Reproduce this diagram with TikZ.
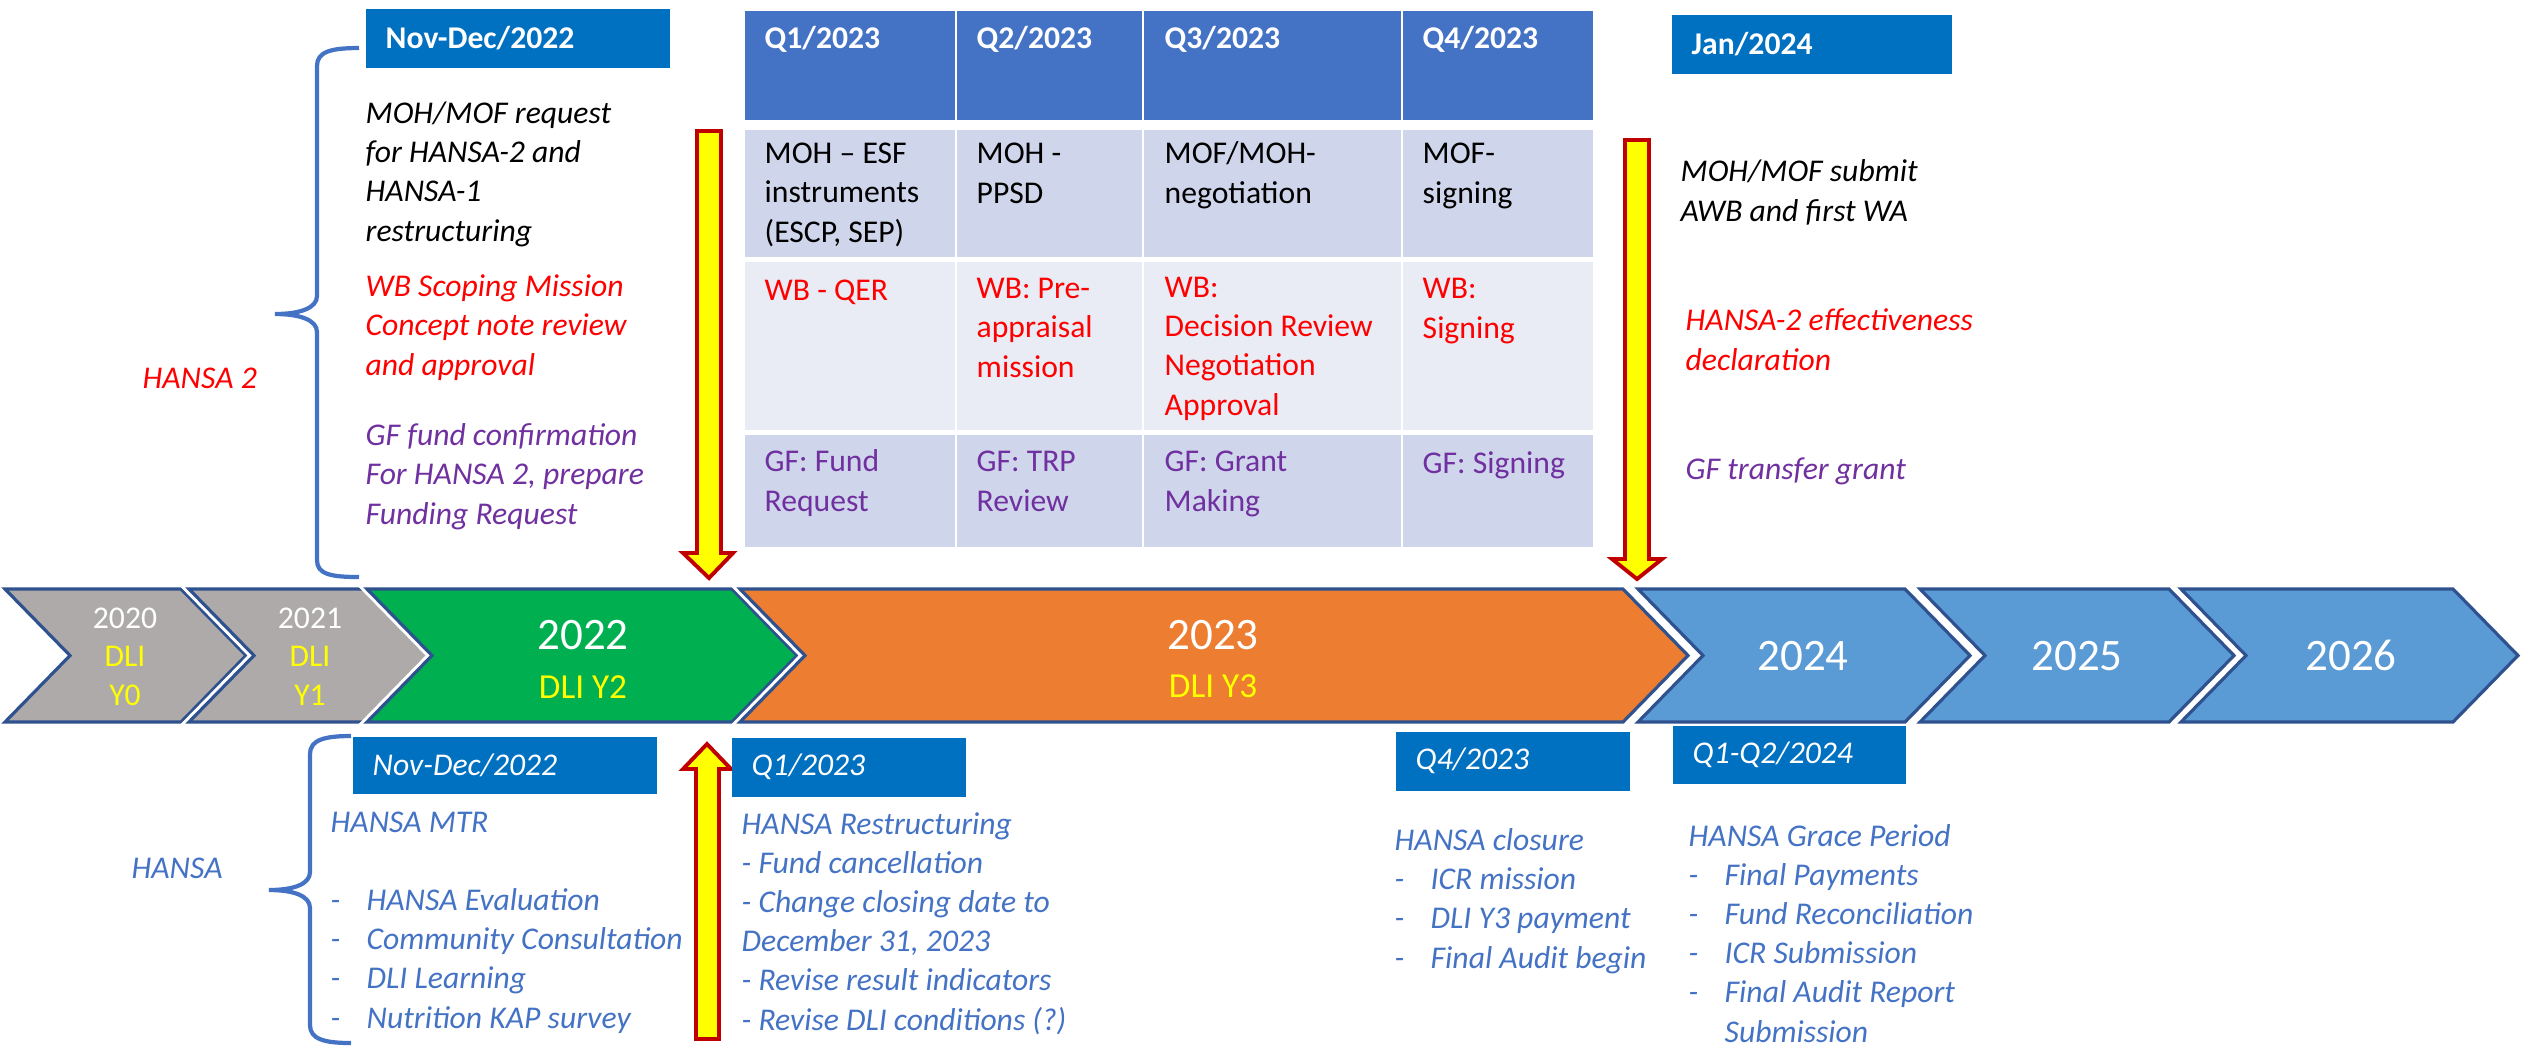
\documentclass[tikz,border=0pt]{standalone}
\usepackage{fontspec}
\setmainfont{Carlito}
\usetikzlibrary{positioning}
\definecolor{boxblue}{HTML}{0070C0}
\definecolor{headblue}{HTML}{4472C4}
\definecolor{celldark}{HTML}{CFD5EA}
\definecolor{celllight}{HTML}{E9EBF5}
\definecolor{chevgray}{HTML}{AEAAAA}
\definecolor{chevgreen}{HTML}{00B050}
\definecolor{chevorange}{HTML}{ED7D31}
\definecolor{chevblue}{HTML}{5B9BD5}
\definecolor{chevedge}{HTML}{2F528F}
\definecolor{txtred}{HTML}{FF0000}
\definecolor{txtpurple}{HTML}{7030A0}
\definecolor{txtblue}{HTML}{4472C4}
\definecolor{arrowred}{HTML}{C00000}
\definecolor{dliyellow}{HTML}{FFFF00}
\newcommand{\dashitem}[1]{\makebox[0.36cm][l]{-}#1}
% multi-line nodes: the base anchor sits on the last line
\tikzset{
  note/.style={inner sep=0pt, anchor=base west, align=left, font=\fontsize{9}{11.1}\selectfont\itshape},
  celltxt/.style={inner sep=0pt, anchor=base west, align=left, font=\fontsize{9}{11.1}\selectfont},
  cell/.style={draw=white, line width=0.8pt},
  datebox/.style={fill=boxblue, text=white, anchor=north west, inner xsep=0.2cm, inner ysep=0pt, align=left},
  chevron/.style={draw=chevedge, line width=0.9pt, line join=miter},
  chevgap/.style={draw=white, line width=2.6pt, line join=miter},
  yarrow/.style={fill=dliyellow, draw=arrowred, line width=1.1pt, line join=miter},
  bracel/.style={draw=txtblue, line width=1.2pt},
  smallyear/.style={inner sep=0pt, anchor=base, align=center, text=dliyellow, font=\fontsize{9}{10.9}\selectfont},
  bigyear/.style={inner sep=0pt, anchor=base, text=white, font=\fontsize{12.8}{15}\selectfont},
  dlitxt/.style={inner sep=0pt, anchor=base, text=dliyellow, font=\fontsize{10}{12}\selectfont}
}
\begin{document}
\begin{tikzpicture}[x=0.01cm, y=-0.01cm]
\useasboundingbox (0,0) rectangle (2521,1053);

% year chevrons
\foreach \l/\r/\c in {5/181/chevgray, 189/365/chevgray, 367/732/chevgreen, 740/1623/chevorange,
                       1638/1905/chevblue, 1920/2169/chevblue, 2181/2453/chevblue}{
  \draw[chevgap] (\l,589) -- (\r,589) -- ++(65,66.5) -- (\r,722) -- (\l,722) -- ++(65,-66.5) -- cycle;
  \draw[chevron, fill=\c] (\l,589) -- (\r,589) -- ++(65,66.5) -- (\r,722) -- (\l,722) -- ++(65,-66.5) -- cycle;
}
\node[smallyear] (y2020) at (125,705) {\textcolor{white}{2020}\\DLI\\Y0};
\node[smallyear] (y2021) at (310,705) {\textcolor{white}{2021}\\DLI\\Y1};
\node[bigyear] (y2022) at (583,649) {2022};
\node[dlitxt] (d2022) at (583,698) {DLI Y2};
\node[bigyear] (y2023) at (1213,649) {2023};
\node[dlitxt] (d2023) at (1213,697) {DLI Y3};
\node[bigyear] (y2024) at (1803,670) {2024};
\node[bigyear] (y2025) at (2077,670) {2025};
\node[bigyear] (y2026) at (2351,670) {2026};

% HANSA 2 (top)
\node[datebox, minimum height=0.59cm, text width=2.64cm, font=\fontsize{9}{11.1}\selectfont\bfseries] (topnd) at (365,8) {Nov-Dec/2022};
\node[datebox, minimum height=0.59cm, text width=2.40cm, font=\fontsize{9}{11.1}\selectfont\bfseries] (topjan) at (1671,14) {Jan/2024};
\node[note, text=txtred] (hansa2) at (142,388) {HANSA 2};
\draw[bracel] (359,48) .. controls (330,48) and (317,52) .. (317,66) -- (317,296)
  .. controls (317,308) and (300,314) .. (275,314)
  .. controls (300,314) and (317,320) .. (317,332) -- (317,560)
  .. controls (317,574) and (330,577) .. (359,577);
\node[note] (reqtxt) at (365,241) {MOH/MOF request\\for HANSA-2 and\\HANSA-1\\restructuring};
\node[note, text=txtred] (wbtxt) at (365,375) {WB Scoping Mission\\Concept note review\\and approval};
\node[note, text=txtpurple] (gftxt) at (365,524) {GF fund confirmation\\For HANSA 2, prepare\\Funding Request};

% quarter table
\foreach \xa/\xb in {744/956, 956/1143, 1143/1402, 1402/1594}{
  \draw[cell, fill=headblue] (\xa,10) rectangle (\xb,121);
  \draw[cell, fill=celldark] (\xa,129) rectangle (\xb,258);
  \draw[cell, fill=celllight] (\xa,261) rectangle (\xb,431);
  \draw[cell, fill=celldark] (\xa,434) rectangle (\xb,548);
}
\node[celltxt, text=white, font=\fontsize{9}{11.1}\selectfont\bfseries] (q1) at (764,48) {Q1/2023};
\node[celltxt, text=white, font=\fontsize{9}{11.1}\selectfont\bfseries] (q2) at (976,48) {Q2/2023};
\node[celltxt, text=white, font=\fontsize{9}{11.1}\selectfont\bfseries] (q3) at (1164,48) {Q3/2023};
\node[celltxt, text=white, font=\fontsize{9}{11.1}\selectfont\bfseries] (q4) at (1422,48) {Q4/2023};
\node[celltxt] (q1moh) at (764,242) {MOH – ESF\\instruments\\(ESCP, SEP)};
\node[celltxt] (q2moh) at (976,203) {MOH -\\PPSD};
\node[celltxt] (q3moh) at (1164,203) {MOF/MOH-\\negotiation};
\node[celltxt] (q4moh) at (1422,203) {MOF-\\signing};
\node[celltxt, text=txtred] (q1wb) at (764,300) {WB - QER};
\node[celltxt, text=txtred] (q2wb) at (976,377) {WB: Pre-\\appraisal\\mission};
\node[celltxt, text=txtred] (q3wb) at (1164,415) {WB:\\Decision Review\\Negotiation\\Approval};
\node[celltxt, text=txtred] (q4wb) at (1422,338) {WB:\\Signing};
\node[celltxt, text=txtpurple] (q1gf) at (764,511) {GF: Fund\\Request};
\node[celltxt, text=txtpurple] (q2gf) at (976,511) {GF: TRP\\Review};
\node[celltxt, text=txtpurple] (q3gf) at (1164,511) {GF: Grant\\Making};
\node[celltxt, text=txtpurple] (q4gf) at (1422,473) {GF: Signing};

% right column
\node[note] (submit) at (1680,221) {MOH/MOF submit\\AWB and first WA};
\node[note, text=txtred] (effect) at (1685,370) {HANSA-2 effectiveness\\declaration};
\node[note, text=txtpurple] (transfer) at (1685,479) {GF transfer grant};

% yellow arrows
\draw[yarrow] (697,131) -- (721,131) -- (721,553) -- (733,553) -- (709,578) -- (683,553) -- (697,553) -- cycle;
\draw[yarrow] (1625,140) -- (1649,140) -- (1649,559) -- (1662,559) -- (1637,579) -- (1612,559) -- (1625,559) -- cycle;
\draw[yarrow] (696,1039) -- (719,1039) -- (719,769) -- (731,769) -- (707,744) -- (683,769) -- (696,769) -- cycle;

% HANSA (bottom)
\node[note, text=txtblue] (hansa) at (131,878) {HANSA};
\draw[bracel] (351,736) .. controls (324,736) and (310,740) .. (310,754) -- (310,872)
  .. controls (310,884) and (294,890) .. (269,890)
  .. controls (294,890) and (310,896) .. (310,908) -- (310,1025)
  .. controls (310,1039) and (324,1043) .. (351,1043);
\node[datebox, minimum height=0.57cm, text width=2.64cm, font=\fontsize{9}{11.1}\selectfont\itshape] (botnd) at (352,736) {Nov-Dec/2022};
\node[datebox, minimum height=0.59cm, text width=1.94cm, font=\fontsize{9}{11.1}\selectfont\itshape] (botq1) at (731,737) {Q1/2023};
\node[datebox, minimum height=0.59cm, text width=1.94cm, font=\fontsize{9}{11.1}\selectfont\itshape] (botq4) at (1395,731) {Q4/2023};
\node[datebox, minimum height=0.58cm, text width=1.93cm, font=\fontsize{9}{11.1}\selectfont\itshape] (botq12) at (1672,725) {Q1-Q2/2024};
\node[note, text=txtblue] (mtr) at (330,1028) {HANSA MTR\\[11.1pt]\dashitem{HANSA Evaluation}\\\dashitem{Community Consultation}\\\dashitem{DLI Learning}\\\dashitem{Nutrition KAP survey}};
\node[note, text=txtblue] (restr) at (741,1030) {HANSA Restructuring\\- Fund cancellation\\- Change closing date to\\December 31, 2023\\- Revise result indicators\\- Revise DLI conditions (?)};
\node[note, text=txtblue] (closure) at (1394,968) {HANSA closure\\\dashitem{ICR mission}\\\dashitem{DLI Y3 payment}\\\dashitem{Final Audit begin}};
\node[note, text=txtblue] (grace) at (1688,1042) {HANSA Grace Period\\\dashitem{Final Payments}\\\dashitem{Fund Reconciliation}\\\dashitem{ICR Submission}\\\dashitem{Final Audit Report}\\\makebox[0.36cm]{}Submission};
\end{tikzpicture}
\end{document}
